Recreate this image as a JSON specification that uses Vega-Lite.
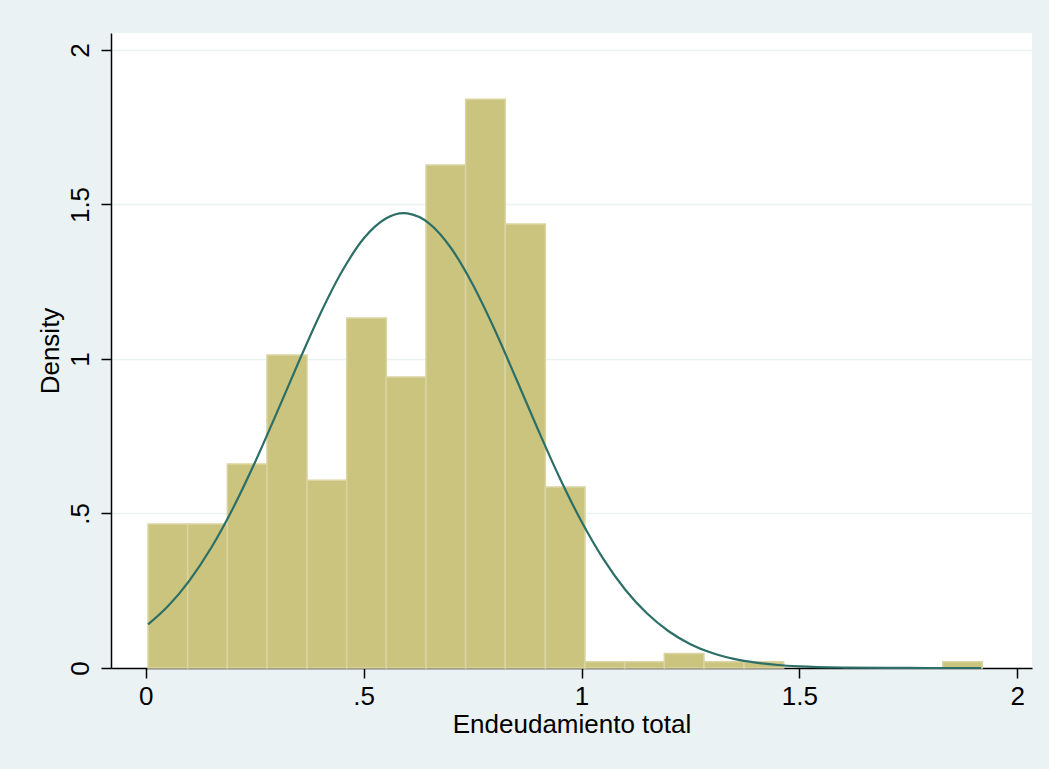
{
  "$schema": "https://vega.github.io/schema/vega-lite/v6.json",
  "width": 921,
  "height": 635,
  "autosize": "none",
  "padding": {"left": 111, "top": 33, "right": 17, "bottom": 101},
  "background": "#EAF2F3",
  "view": {"fill": "white", "stroke": null},
  "config": {
    "font": "Liberation Sans",
    "axis": {"labelFont": "Liberation Sans", "titleFont": "Liberation Sans", "labelColor": "black", "titleColor": "black", "titleFontWeight": "normal", "domainColor": "black", "tickColor": "black", "domainWidth": 1.5, "tickWidth": 1.5}
  },
  "datasets": {
    "bins": [
      {"bin_start": 0.005, "bin_end": 0.096, "density": 0.466},
      {"bin_start": 0.096, "bin_end": 0.187, "density": 0.466},
      {"bin_start": 0.187, "bin_end": 0.278, "density": 0.660},
      {"bin_start": 0.278, "bin_end": 0.370, "density": 1.013},
      {"bin_start": 0.370, "bin_end": 0.461, "density": 0.608},
      {"bin_start": 0.461, "bin_end": 0.552, "density": 1.133},
      {"bin_start": 0.552, "bin_end": 0.643, "density": 0.942},
      {"bin_start": 0.643, "bin_end": 0.734, "density": 1.628},
      {"bin_start": 0.734, "bin_end": 0.825, "density": 1.841},
      {"bin_start": 0.825, "bin_end": 0.917, "density": 1.437},
      {"bin_start": 0.917, "bin_end": 1.008, "density": 0.586},
      {"bin_start": 1.008, "bin_end": 1.099, "density": 0.020},
      {"bin_start": 1.099, "bin_end": 1.190, "density": 0.020},
      {"bin_start": 1.190, "bin_end": 1.281, "density": 0.047},
      {"bin_start": 1.281, "bin_end": 1.373, "density": 0.020},
      {"bin_start": 1.373, "bin_end": 1.464, "density": 0.020},
      {"bin_start": 1.829, "bin_end": 1.920, "density": 0.020}
    ],
    "curve": [
      {"x": 0.005, "y": 0.141}, {"x": 0.05, "y": 0.199}, {"x": 0.1, "y": 0.283},
      {"x": 0.15, "y": 0.389}, {"x": 0.2, "y": 0.517}, {"x": 0.25, "y": 0.664},
      {"x": 0.3, "y": 0.824}, {"x": 0.35, "y": 0.988}, {"x": 0.4, "y": 1.145},
      {"x": 0.45, "y": 1.283}, {"x": 0.5, "y": 1.390}, {"x": 0.55, "y": 1.454},
      {"x": 0.592, "y": 1.472}, {"x": 0.6, "y": 1.471}, {"x": 0.65, "y": 1.439},
      {"x": 0.7, "y": 1.360}, {"x": 0.75, "y": 1.242}, {"x": 0.8, "y": 1.097},
      {"x": 0.85, "y": 0.936}, {"x": 0.9, "y": 0.772}, {"x": 0.95, "y": 0.615},
      {"x": 1.0, "y": 0.474}, {"x": 1.05, "y": 0.353}, {"x": 1.1, "y": 0.254},
      {"x": 1.15, "y": 0.177}, {"x": 1.2, "y": 0.119}, {"x": 1.25, "y": 0.0772},
      {"x": 1.3, "y": 0.0485}, {"x": 1.35, "y": 0.0295}, {"x": 1.4, "y": 0.0173},
      {"x": 1.45, "y": 0.0098}, {"x": 1.5, "y": 0.0054}, {"x": 1.6, "y": 0.0015},
      {"x": 1.7, "y": 0.00034}, {"x": 1.8, "y": 0.00007}, {"x": 1.917, "y": 0.00001}
    ]
  },
  "layer": [
    {
      "data": {"name": "bins"},
      "mark": {"type": "rect", "fill": "#CBC47F", "stroke": "#DAD4A2", "strokeWidth": 1.5},
      "encoding": {
        "x": {"field": "bin_start", "type": "quantitative",
          "scale": {"domain": [-0.08, 2.034], "nice": false, "zero": false},
          "axis": {"values": [0, 0.5, 1, 1.5, 2], "grid": false, "title": "Endeudamiento total",
            "labelExpr": "datum.value == 0.5 ? '.5' : toString(datum.value)",
            "labelFontSize": 26, "titleFontSize": 26, "tickSize": 10, "labelPadding": 5, "titlePadding": 2, "labelFlush": false}},
        "x2": {"field": "bin_end"},
        "y": {"field": "density", "type": "quantitative",
          "scale": {"domain": [0, 2.055], "nice": false},
          "axis": {"values": [0, 0.5, 1, 1.5, 2], "grid": true, "gridColor": "#EAF2F3", "gridWidth": 1.5, "title": "Density",
            "labelExpr": "datum.value == 0.5 ? '.5' : toString(datum.value)",
            "labelAngle": -90, "labelAlign": "center", "labelBaseline": "bottom",
            "labelFontSize": 26, "titleFontSize": 26, "tickSize": 10, "labelPadding": 8, "titlePadding": 4, "labelFlush": false}},
        "y2": {"datum": 0}
      }
    },
    {
      "data": {"name": "curve"},
      "mark": {"type": "line", "color": "#2C6F66", "strokeWidth": 2.2, "interpolate": "monotone"},
      "encoding": {
        "x": {"field": "x", "type": "quantitative"},
        "y": {"field": "y", "type": "quantitative"}
      }
    }
  ]
}
